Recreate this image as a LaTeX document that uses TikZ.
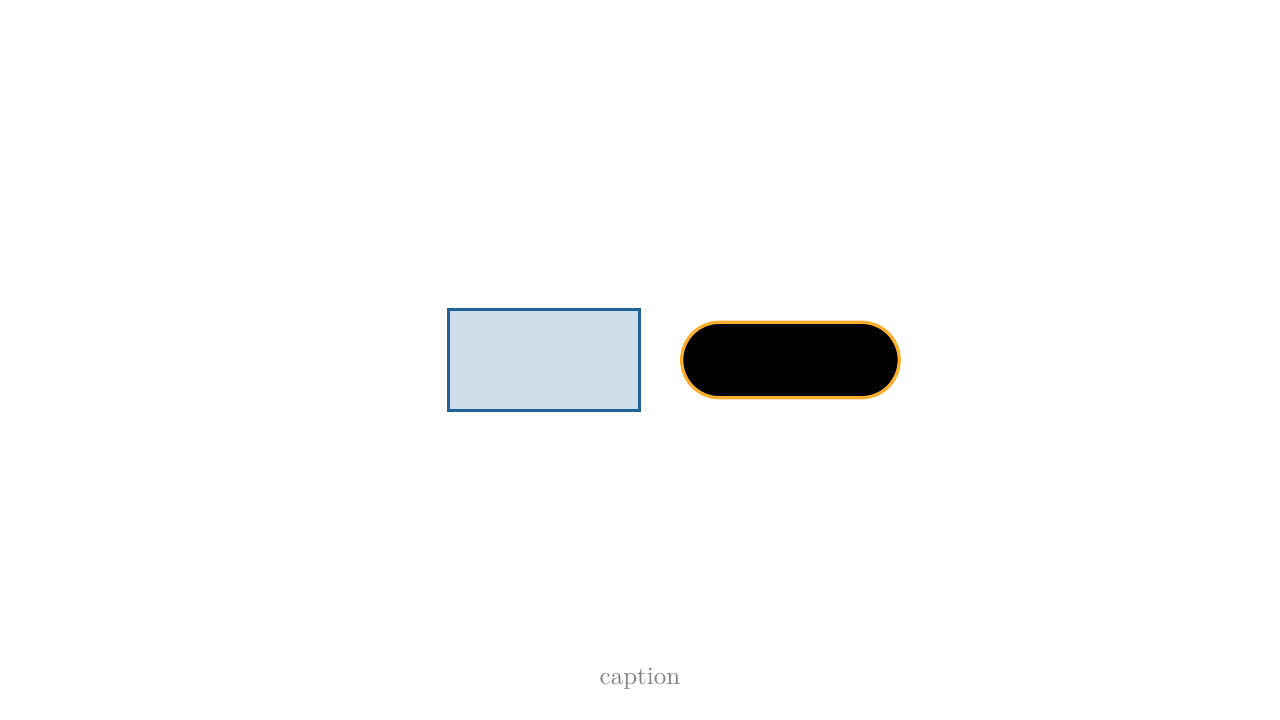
\documentclass[tikz,border=0pt]{standalone}
\usetikzlibrary{positioning}

\definecolor{boxblue}{HTML}{1F6398}
\definecolor{boxfill}{HTML}{CFDEEA}
\definecolor{pillorange}{HTML}{FBAE2F}

\begin{document}
\begin{tikzpicture}[
  node distance=0.55cm,
  block/.style={
    rectangle,
    draw=boxblue,
    fill=boxfill,
    line width=1.3pt,
    minimum width=2.68cm,
    minimum height=1.42cm
  },
  pill/.style={
    rectangle,
    rounded corners=0.53cm,
    draw=pillorange,
    fill=black,
    line width=1.3pt,
    minimum width=3.06cm,
    minimum height=1.06cm
  }
]
\useasboundingbox (0,0) rectangle (18,10.125);

\node[block] (box) at (7.65,5.0625) {};

\node[pill, right=of box] (term) {};

% Caption
\node[text=gray] (caption) at (9,0.58) {caption};

\end{tikzpicture}
\end{document}
